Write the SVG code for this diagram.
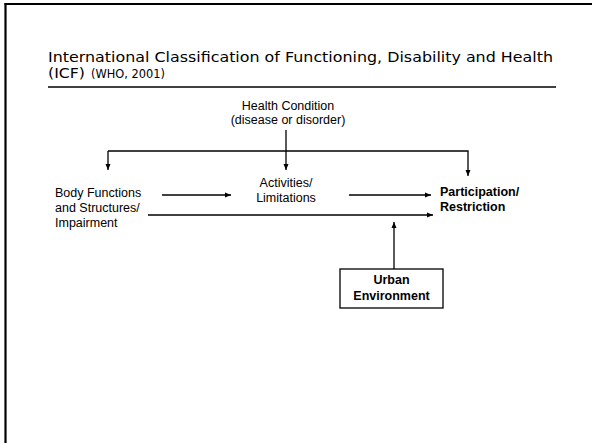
<svg xmlns="http://www.w3.org/2000/svg" width="592" height="443" viewBox="0 0 592 443">
<style>
.t{font-family:"Liberation Sans",Arial,sans-serif;font-size:12.5px;fill:#000}
.b{font-weight:bold}
.title{font-family:"DejaVu Sans",Verdana,sans-serif;fill:#000}
.c{fill:none;stroke:#000;stroke-width:1.3}
</style>
<defs>
<marker id="ah" markerUnits="userSpaceOnUse" markerWidth="7" markerHeight="6" refX="6" refY="3" orient="auto">
<path d="M0,0.5 L6,3 L0,5.5 z" fill="#000"/>
</marker>
</defs>
<rect width="592" height="443" fill="#fff"/>
<g id="frame">
<line x1="5.5" y1="3" x2="5.5" y2="443" stroke="#000" stroke-width="2.2"/>
<line x1="4.5" y1="4" x2="592" y2="4" stroke="#000" stroke-width="2.2"/>
</g>
<g id="title">
<text class="title" x="48" y="62" font-size="14" textLength="505" lengthAdjust="spacingAndGlyphs">International Classification of Functioning, Disability and Health</text>
<text class="title" x="48" y="78" font-size="14" textLength="37" lengthAdjust="spacingAndGlyphs">(ICF)</text>
<text class="title" x="91" y="78" font-size="12" textLength="74" lengthAdjust="spacingAndGlyphs">(WHO, 2001)</text>
<line x1="48" y1="87" x2="556" y2="87" stroke="#000" stroke-width="1.6"/>
</g>
<g id="health">
<text class="t" x="288" y="110" text-anchor="middle">Health Condition</text>
<text class="t" x="288" y="124" text-anchor="middle">(disease or disorder)</text>
</g>
<g id="body">
<text class="t" x="55" y="197">Body Functions</text>
<text class="t" x="55" y="212">and Structures/</text>
<text class="t" x="55" y="227">Impairment</text>
</g>
<g id="activities">
<text class="t" x="286" y="187" text-anchor="middle">Activities/</text>
<text class="t" x="286" y="202" text-anchor="middle">Limitations</text>
</g>
<g id="participation">
<text class="t b" x="440" y="196">Participation/</text>
<text class="t b" x="440" y="211">Restriction</text>
</g>
<g id="urban">
<rect x="340" y="269" width="103" height="39" fill="#fff" stroke="#000" stroke-width="1.3"/>
<text class="t b" x="391.5" y="284" text-anchor="middle" font-size="12">Urban</text>
<text class="t b" x="391.5" y="300" text-anchor="middle" font-size="12">Environment</text>
</g>
<g id="connectors">
<line class="c" x1="286" y1="130" x2="286" y2="170" marker-end="url(#ah)"/>
<polyline class="c" points="108,151 468,151 468,176" marker-end="url(#ah)"/>
<line class="c" x1="108" y1="151" x2="108" y2="170" marker-end="url(#ah)"/>
<line class="c" x1="162" y1="195" x2="231" y2="195" marker-end="url(#ah)"/>
<line class="c" x1="349" y1="195" x2="431" y2="195" marker-end="url(#ah)"/>
<line class="c" x1="148" y1="215" x2="433" y2="215" marker-end="url(#ah)"/>
<line class="c" x1="394" y1="269" x2="394" y2="222" marker-end="url(#ah)"/>
</g>
</svg>
